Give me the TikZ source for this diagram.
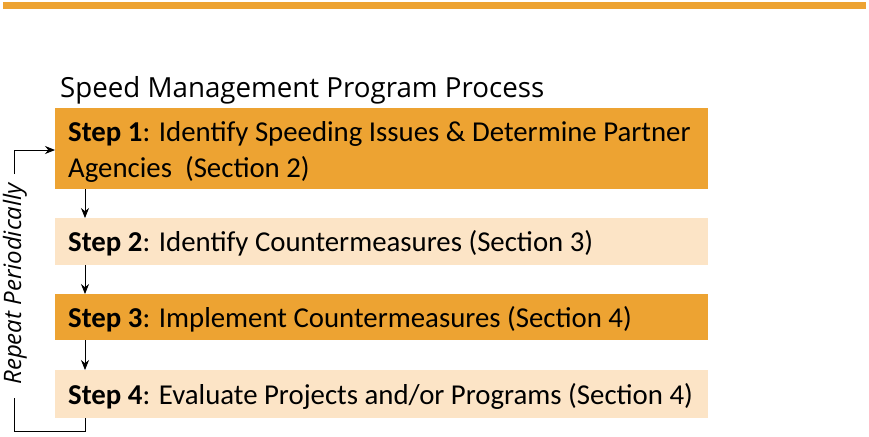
\documentclass[tikz,border=0pt]{standalone}
\usepackage{fontspec}
\setmainfont{Carlito}
\newfontfamily\titlefont{Open Sans}
\usetikzlibrary{arrows.meta}
\definecolor{darkor}{HTML}{EDA332}
\definecolor{lightor}{HTML}{FCE4C6}
\begin{document}
\begin{tikzpicture}[x=1pt,y=-1pt,
  stepbox/.style={anchor=north west,inner sep=0pt,minimum width=653pt},
  steptext/.style={anchor=west,inner sep=0pt,align=left,font=\fontsize{28.8}{36}\selectfont},
  conn/.style={-{Stealth[length=10pt,width=8pt]},line width=0.8pt},
  loopline/.style={line width=0.8pt}]
\useasboundingbox (0,0) rectangle (869,436);
\fill[darkor] (3,2) rectangle (866,9);
\node[anchor=base west,inner sep=0pt,font=\titlefont\fontsize{27.7}{32}\selectfont] (title) at (60,97) {Speed Management Program Process};
\node[stepbox,fill=darkor,minimum height=81pt] (s1) at (55,108) {};
\node[steptext] (t1) at (68,152) {\textbf{Step 1}: Identify Speeding Issues \& Determine Partner\\Agencies\ \ (Section 2)};
\node[stepbox,fill=lightor,minimum height=47pt] (s2) at (55,218) {};
\node[steptext] (t2) at (68,243) {\textbf{Step 2}: Identify Countermeasures (Section 3)};
\node[stepbox,fill=darkor,minimum height=46pt] (s3) at (55,294) {};
\node[steptext] (t3) at (68,319) {\textbf{Step 3}: Implement Countermeasures (Section 4)};
\node[stepbox,fill=lightor,minimum height=48pt] (s4) at (55,370) {};
\node[steptext] (t4) at (68,396) {\textbf{Step 4}: Evaluate Projects and/or Programs (Section 4)};
\draw[conn] (s1.south west) ++(30,0) coordinate (a1) -- (a1 |- s2.north);
\draw[conn] (s2.south west) ++(30,0) coordinate (a2) -- (a2 |- s3.north);
\draw[conn] (s3.south west) ++(30,0) coordinate (a3) -- (a3 |- s4.north);
\node[rotate=90,inner sep=0pt,font=\titlefont\itshape\fontsize{24}{28}\selectfont] (rep) at (15,284) {Repeat Periodically};
\coordinate (c1) at (14,431);
\coordinate (c2) at (14,150);
\coordinate (g1) at (14,398);
\coordinate (g2) at (14,174);
\draw[loopline] (s4.south west) ++(30,0) coordinate (a4) -- (a4 |- c1) -- (c1) -- (g1);
\draw[loopline] (g2) -- (c2);
\draw[conn] (c2) -- (c2 -| s1.west);
\end{tikzpicture}
\end{document}
